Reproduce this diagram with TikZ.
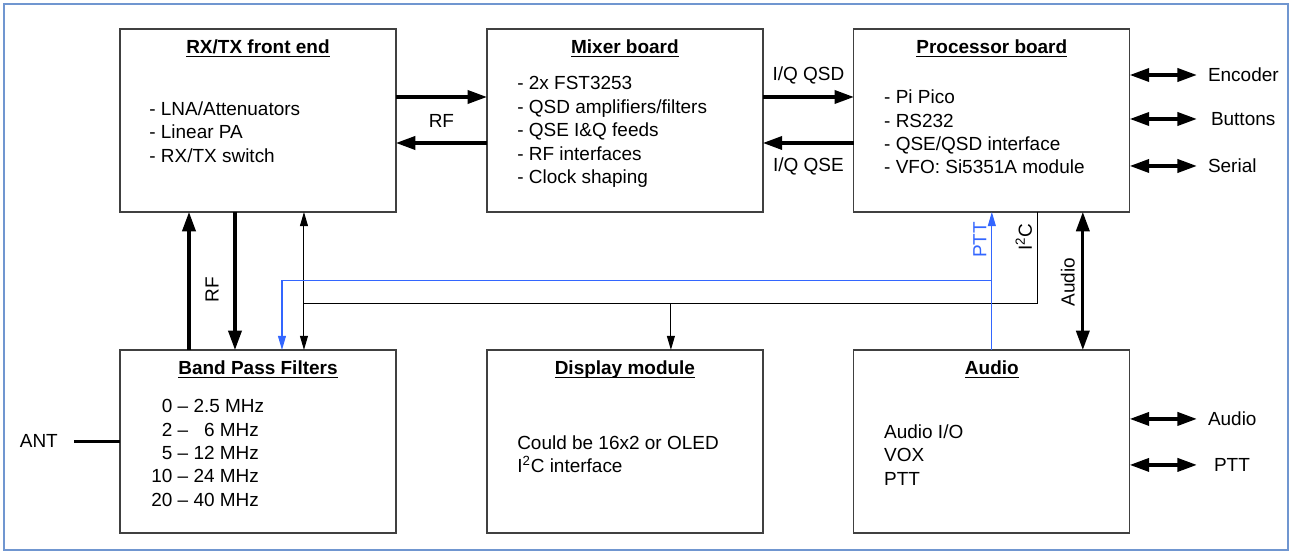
\documentclass[tikz,border=0pt]{standalone}
\usepackage{fontspec}
\setmainfont{Liberation Sans}
\usepackage{tikz}
\usetikzlibrary{
        arrows.meta,
        calc,
        positioning
    }
\definecolor{pttblue}{RGB}{51,102,255}
\definecolor{framecol}{RGB}{112,150,208}
\newcommand{\boxfont}{\fontsize{10.8}{13.3}\selectfont}
\newcommand{\headline}[1]{\underline{\smash{\textbf{#1}}}}
\tikzset{>={Triangle[length=11pt,width=7.5pt]},node distance=1.82cm}
\tikzset{
    board/.style={draw=black!75,line width=0.7pt,minimum width=5.52cm,minimum height=3.66cm,inner sep=0pt,outer sep=0pt},
    heading/.style={anchor=base,inner sep=0pt},
    items/.style={anchor=west,align=left,inner sep=0pt},
    thickline/.style={line width=1.8pt},
    thinline/.style={line width=0.6pt,>={Triangle[length=8pt,width=4.5pt]}},
    ptt/.style={thinline,draw=pttblue}
}

\begin{document}
\begin{tikzpicture}[x=0.02cm,y=-0.02cm,every node/.style={font=\boxfont}]
                \useasboundingbox (0,0) rectangle (1293,555);
                \draw[framecol,line width=1.4pt] (4,4) rectangle (1288,550);
                \node[board,anchor=north west] (rxtx) at (120,29) {};
                \node[board] (mixer) [right=of rxtx] {};
                \node[board] (proc)  [right=of mixer] {};
                \node[board] (bpf)   [below=2.76cm of rxtx] {};
                \node[board] (disp)  [right=of bpf] {};
                \node[board] (audio) [right=of disp] {};
                \node[heading] (rxtxT)  at ([yshift=-0.5cm]rxtx.north)  {\headline{RX/TX front end}};
                \node[heading] (mixerT) at ([yshift=-0.5cm]mixer.north) {\headline{Mixer board}};
                \node[heading] (procT)  at ([yshift=-0.5cm]proc.north)  {\headline{Processor board}};
                \node[heading] (bpfT)   at ([yshift=-0.5cm]bpf.north)   {\headline{Band Pass Filters}};
                \node[heading] (dispT)  at ([yshift=-0.5cm]disp.north)  {\headline{Display module}};
                \node[heading] (audioT) at ([yshift=-0.5cm]audio.north) {\headline{Audio}};
                \node[items] (rxtxL)  at ([xshift=0.58cm,yshift=-0.23cm]rxtx.west)
                    {- LNA/Attenuators\\- Linear PA\\- RX/TX switch};
                \node[items] (mixerL) at ([xshift=0.6cm,yshift=-0.23cm]mixer.west)
                    {- 2x FST3253\\- QSD amplifiers/filters\\- QSE I\&Q feeds\\- RF interfaces\\- Clock shaping};
                \node[items] (procL)  at ([xshift=0.6cm,yshift=-0.23cm]proc.west)
                    {- Pi Pico\\- RS232\\- QSE/QSD interface\\- VFO: Si5351A module};
                \node[items] (bpfL)   at ([xshift=0.62cm,yshift=-0.27cm]bpf.west)
                    {\begin{tabular}{@{}r@{\ --\ }l@{}}0&2.5 MHz\\2&\phantom{1}6 MHz\\5&12 MHz\\10&24 MHz\\20&40 MHz\end{tabular}};
                \node[items] (dispL)  at ([xshift=0.6cm,yshift=-0.26cm]disp.west)
                    {Could be 16x2 or OLED\\I\textsuperscript{2}C interface};
                \node[items] (audioL) at ([xshift=0.6cm,yshift=-0.27cm]audio.west)
                    {Audio I/O\\VOX\\PTT};
                % RF and I/Q paths
                \draw[thickline,->] ([yshift=0.47cm]rxtx.east) -- ([yshift=0.47cm]mixer.west);
                \draw[thickline,<-] ([yshift=-0.45cm]rxtx.east) -- ([yshift=-0.45cm]mixer.west);
                \node (rfT) at ($(rxtx.east)!0.5!(mixer.west)$) {RF};
                \draw[thickline,->] ([yshift=0.47cm]mixer.east) -- ([yshift=0.47cm]proc.west);
                \draw[thickline,<-] ([yshift=-0.45cm]mixer.east) -- ([yshift=-0.45cm]proc.west);
                \node[yshift=0.91cm] (qsdT) at ($(mixer.east)!0.5!(proc.west)$) {I/Q QSD};
                \node[yshift=-0.91cm] (qseT) at ($(mixer.east)!0.5!(proc.west)$) {I/Q QSE};
                % outside connections
                \coordinate (enc) at ([xshift=1.34cm,yshift=0.91cm]proc.east);
                \coordinate (btn) at ([xshift=1.34cm,yshift=0.03cm]proc.east);
                \coordinate (ser) at ([xshift=1.34cm,yshift=-0.91cm]proc.east);
                \coordinate (aud) at ([xshift=1.34cm,yshift=0.45cm]audio.east);
                \coordinate (pto) at ([xshift=1.34cm,yshift=-0.47cm]audio.east);
                \draw[thickline,<->] (proc.east |- enc) -- (enc);
                \draw[thickline,<->] (proc.east |- btn) -- (btn);
                \draw[thickline,<->] (proc.east |- ser) -- (ser);
                \draw[thickline,<->] (audio.east |- aud) -- (aud);
                \draw[thickline,<->] (audio.east |- pto) -- (pto);
                \node (encT) [right=0.1cm of enc] {Encoder};
                \node (btnT) [right=0.16cm of btn] {Buttons};
                \node (serT) [right=0.1cm of ser] {Serial};
                \node (audT) [right=0.1cm of aud] {Audio};
                \node (ptoT) [right=0.22cm of pto] {PTT};
                \coordinate (antend) at ([xshift=-0.92cm]bpf.west);
                \node (ant) [left=0.2cm of antend] {ANT};
                \draw[thickline] (antend) -- (bpf.west);
                % front end to filters
                \draw[thickline,->] ([xshift=1.38cm]bpf.north west) -- ([xshift=1.38cm]rxtx.south west);
                \draw[thickline,->] ([xshift=2.3cm]rxtx.south west) -- ([xshift=2.3cm]bpf.north west);
                \node[rotate=90] (rfV) at ([xshift=1.84cm,yshift=-1.56cm]rxtx.south west) {RF};
                \draw[thinline,<->] ([xshift=3.68cm]rxtx.south west) -- ([xshift=3.68cm]bpf.north west);
                % I2C bus
                \coordinate (busL) at ([xshift=3.68cm,yshift=-1.84cm]rxtx.south west);
                \coordinate (busR) at ([xshift=3.68cm,yshift=-1.84cm]proc.south west);
                \coordinate (dispIn) at ([xshift=3.68cm]disp.north west);
                \draw[thinline] (busL) -- (busR) -- ([xshift=3.68cm]proc.south west);
                \draw[thinline,->] (busL -| dispIn) -- (dispIn);
                \node[rotate=90] (i2cV) at ([xshift=3.4cm,yshift=-0.5cm]proc.south west) {I\textsuperscript{2}C};
                % PTT line
                \coordinate (pttJ) at ([yshift=-1.38cm]proc.south);
                \draw[ptt,->] (audio.north) -- (proc.south);
                \draw[ptt,->] (pttJ) -| ([xshift=3.24cm]bpf.north west);
                \node[rotate=90,text=pttblue] (pttV) at ([xshift=-0.24cm,yshift=-0.56cm]proc.south) {PTT};
                % audio
                \draw[thickline,<->] ([xshift=4.58cm]proc.south west) -- ([xshift=4.58cm]audio.north west);
                \node[rotate=90] (audioV) at ([xshift=4.28cm,yshift=-1.4cm]proc.south west) {Audio};
\end{tikzpicture}
\end{document}
